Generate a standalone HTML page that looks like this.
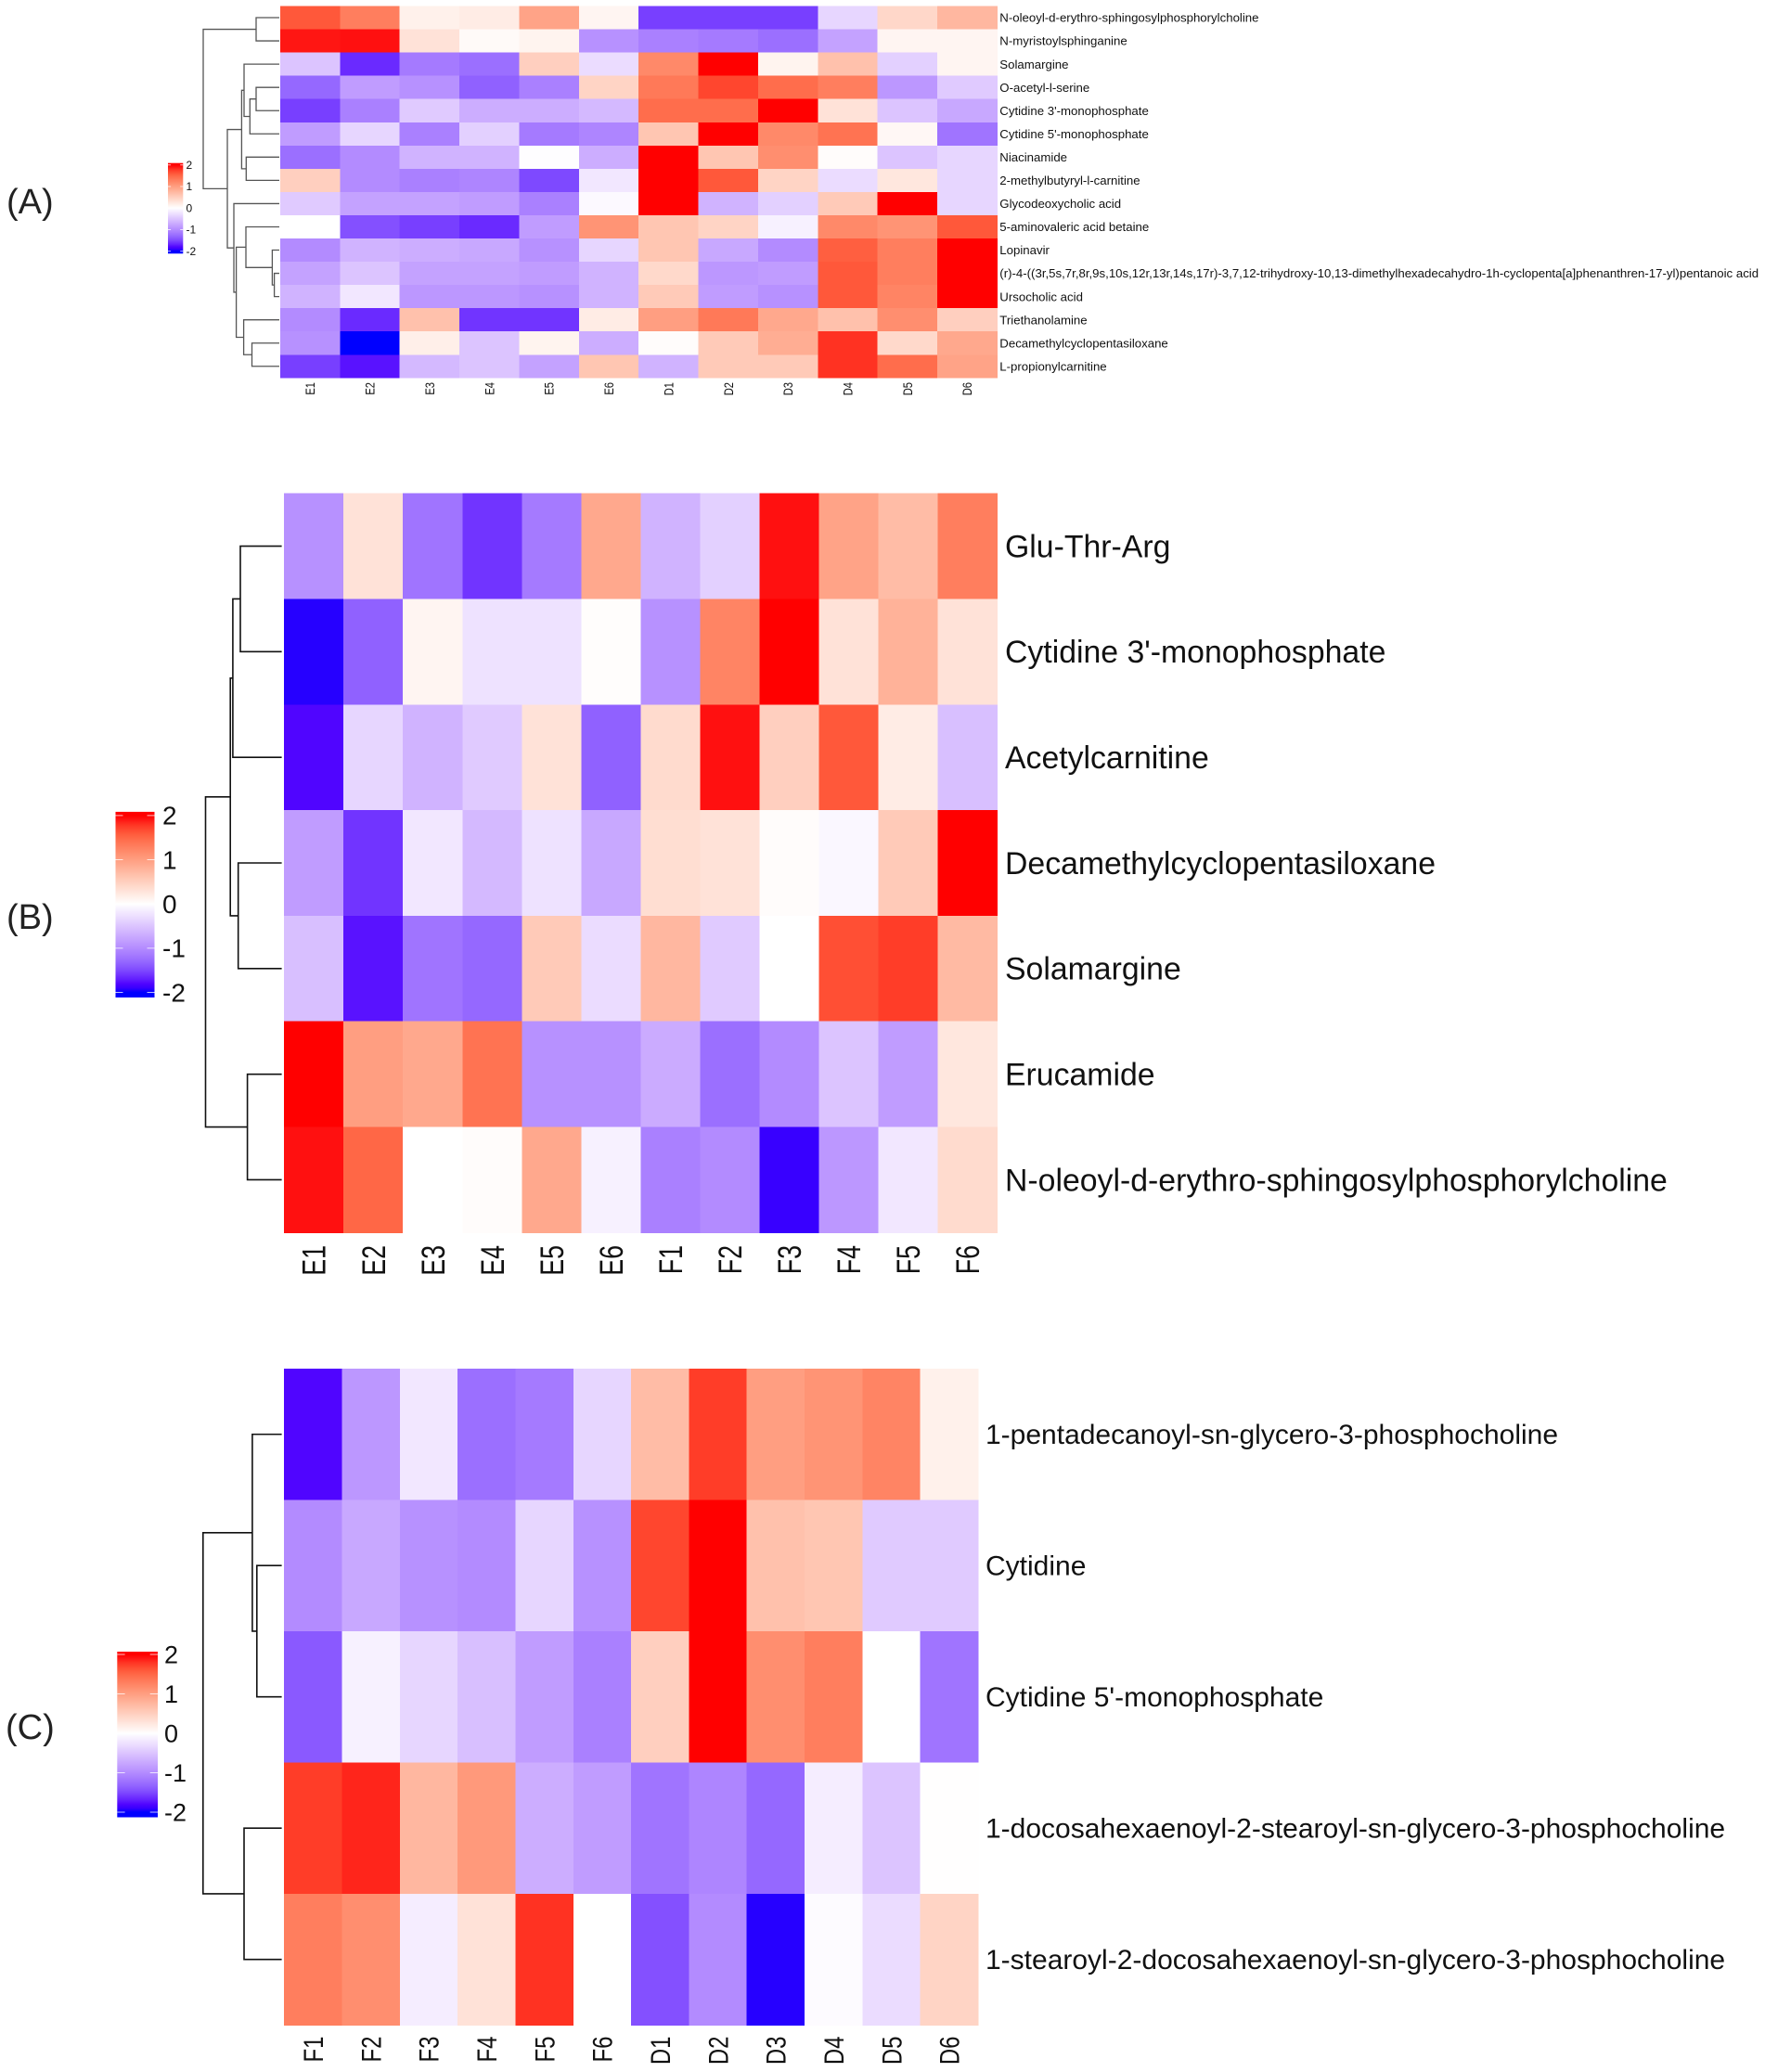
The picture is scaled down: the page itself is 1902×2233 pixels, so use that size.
<!DOCTYPE html>
<html lang="en">
<head>
<meta charset="utf-8">
<title>Metabolite clustered heatmaps</title>
<style>
  html, body { margin: 0; padding: 0; background: #ffffff; }
  svg { display: block; font-family: "Liberation Sans", Arial, sans-serif; }
</style>
</head>
<body>
<svg id="figure" xmlns="http://www.w3.org/2000/svg" width="1902" height="2233" viewBox="0 0 1902 2233">
  <rect x="0" y="0" width="1902" height="2233" fill="#ffffff"/>
  <defs id="gradients"></defs>
</svg>
<script>
// ---------- Panel A data ----------
const rowsA = ["N-oleoyl-d-erythro-sphingosylphosphorylcholine","N-myristoylsphinganine","Solamargine","O-acetyl-l-serine","Cytidine 3'-monophosphate","Cytidine 5'-monophosphate","Niacinamide","2-methylbutyryl-l-carnitine","Glycodeoxycholic acid","5-aminovaleric acid betaine","Lopinavir","(r)-4-((3r,5s,7r,8r,9s,10s,12r,13r,14s,17r)-3,7,12-trihydroxy-10,13-dimethylhexadecahydro-1h-cyclopenta[a]phenanthren-17-yl)pentanoic acid","Ursocholic acid","Triethanolamine","Decamethylcyclopentasiloxane","L-propionylcarnitine"];
const colsA = ["E1","E2","E3","E4","E5","E6","D1","D2","D3","D4","D5","D6"];
const valuesA = [
  [1.6,1.3,0.15,0.2,0.95,0.1,-1.55,-1.55,-1.55,-0.35,0.42,0.75],
  [1.9,1.92,0.3,0.05,0.12,-0.95,-1.1,-1.15,-1.25,-0.8,0.1,0.1],
  [-0.5,-1.65,-1.15,-1.25,0.5,-0.3,1.2,2,0.12,0.65,-0.4,0.1],
  [-1.3,-0.85,-0.95,-1.35,-1.1,0.45,1.35,1.7,1.45,1.3,-0.9,-0.45],
  [-1.55,-1.1,-0.45,-0.7,-0.7,-0.6,1.45,1.45,2,0.3,-0.5,-0.75],
  [-0.85,-0.35,-1.1,-0.4,-1.15,-1.05,0.6,2,1.2,1.4,0.08,-1.2],
  [-1.25,-1,-0.65,-0.65,-0.02,-0.7,2,0.6,1.15,0.03,-0.5,-0.35],
  [0.5,-1,-1.1,-1.05,-1.5,-0.2,2,1.6,0.45,-0.3,0.25,-0.35],
  [-0.45,-0.8,-0.8,-0.85,-1.1,-0.05,2,-0.65,-0.4,0.55,2,-0.35],
  [0,-1.45,-1.55,-1.65,-0.85,1.1,0.6,0.45,-0.12,1.2,1.1,1.6],
  [-1,-0.65,-0.7,-0.75,-0.95,-0.35,0.6,-0.75,-1,1.55,1.3,2],
  [-0.8,-0.5,-0.8,-0.8,-0.85,-0.65,0.4,-0.9,-0.85,1.6,1.3,2],
  [-0.65,-0.2,-0.9,-0.9,-0.95,-0.65,0.55,-0.85,-0.95,1.6,1.25,2],
  [-1,-1.65,0.65,-1.6,-1.6,0.2,1,1.35,0.9,0.65,1.15,0.5],
  [-0.95,-2,0.17,-0.5,0.12,-0.7,0.03,0.55,0.85,1.8,0.4,0.9],
  [-1.55,-1.75,-0.6,-0.5,-0.8,0.6,-0.65,0.55,0.55,1.8,1.45,0.95]
];
// merges: [childA, childB, height]; negative = leaf row (-1 is row 0), positive = earlier merge (1-based)
const mergesA = [
  [-1,-2,25],[-4,-5,25],[2,-6,31.7],[-3,3,38],[-7,-8,35.7],[4,5,40.6],[-12,-13,5.4],[-11,7,7.6],
  [-10,8,36],[-15,-16,29.5],[-14,10,38.4],[9,11,46.4],[-9,12,49],[6,13,56],[1,14,82]
];

// ---------- Panel B data ----------
const rowsB = ["Glu-Thr-Arg","Cytidine 3'-monophosphate","Acetylcarnitine","Decamethylcyclopentasiloxane","Solamargine","Erucamide","N-oleoyl-d-erythro-sphingosylphosphorylcholine"];
const colsB = ["E1","E2","E3","E4","E5","E6","F1","F2","F3","F4","F5","F6"];
const valuesB = [
  [-0.95,0.3,-1.2,-1.6,-1.15,0.9,-0.65,-0.4,1.92,0.95,0.7,1.3],
  [-1.95,-1.35,0.1,-0.25,-0.25,0.02,-0.95,1.25,2,0.3,0.8,0.3],
  [-1.8,-0.35,-0.65,-0.45,0.3,-1.35,0.38,1.92,0.5,1.6,0.2,-0.55],
  [-0.85,-1.6,-0.2,-0.6,-0.25,-0.75,0.35,0.3,0.03,-0.07,0.55,2],
  [-0.55,-1.75,-1.2,-1.3,0.55,-0.3,0.75,-0.45,0,1.65,1.75,0.72],
  [2,1,0.9,1.4,-0.95,-0.95,-0.72,-1.25,-1,-0.5,-0.85,0.25],
  [1.92,1.5,0,0.03,0.9,-0.12,-1.1,-1,-1.9,-0.9,-0.2,0.38]
];
const mergesB = [[-1,-2,44.6],[1,-3,52.7],[-4,-5,46.9],[2,3,55.4],[-6,-7,37],[4,5,82.1]];

// ---------- Panel C data ----------
const rowsC = ["1-pentadecanoyl-sn-glycero-3-phosphocholine","Cytidine","Cytidine 5'-monophosphate","1-docosahexaenoyl-2-stearoyl-sn-glycero-3-phosphocholine","1-stearoyl-2-docosahexaenoyl-sn-glycero-3-phosphocholine"];
const colsC = ["F1","F2","F3","F4","F5","F6","D1","D2","D3","D4","D5","D6"];
const valuesC = [
  [-1.8,-0.9,-0.2,-1.25,-1.15,-0.35,0.7,1.75,1,1.1,1.25,0.15],
  [-1,-0.75,-0.95,-1,-0.35,-0.95,1.7,2,0.65,0.6,-0.45,-0.45],
  [-1.4,-0.12,-0.35,-0.55,-0.85,-1.1,0.5,2,1.15,1.3,0,-1.2],
  [1.75,1.85,0.75,1.05,-0.7,-0.85,-1.2,-1.05,-1.3,-0.15,-0.5,0.01],
  [1.3,1.15,-0.15,0.3,1.8,0,-1.45,-1,-1.95,-0.03,-0.3,0.45]
];
const mergesC = [[-2,-3,26.8],[-1,1,31.7],[-4,-5,40.6],[2,3,84.8]];

const legendTicks = [2,1,0,-1,-2];

// ---------- Colour scale: blue-white-red interpolated in LAB ----------
function srgbToLab(r,g,b){
  const f=c=>{c/=255;return c<=0.04045?c/12.92:Math.pow((c+0.055)/1.055,2.4);};
  const R=f(r),G=f(g),B=f(b);
  const X=(0.4124*R+0.3576*G+0.1805*B)/0.95047,Y=0.2126*R+0.7152*G+0.0722*B,Z=(0.0193*R+0.1192*G+0.9505*B)/1.08883;
  const h=t=>t>0.008856?Math.cbrt(t):7.787*t+16/116;
  return [116*h(Y)-16,500*(h(X)-h(Y)),200*(h(Y)-h(Z))];
}
function labToRgb(L,a,b){
  const fy=(L+16)/116,fx=fy+a/500,fz=fy-b/200;
  const g=t=>t*t*t>0.008856?t*t*t:(t-16/116)/7.787;
  const X=0.95047*g(fx),Y=g(fy),Z=1.08883*g(fz);
  const lin=[3.2406*X-1.5372*Y-0.4986*Z,-0.9689*X+1.8758*Y+0.0415*Z,0.0557*X-0.204*Y+1.057*Z];
  return lin.map(c=>{c=Math.min(1,Math.max(0,c));const s=c<=0.0031308?12.92*c:1.055*Math.pow(c,1/2.4)-0.055;return Math.round(s*255);});
}
const labBlue=srgbToLab(0,0,255),labWhite=srgbToLab(255,255,255),labRed=srgbToLab(255,0,0);
function colorFor(v){
  const t=Math.min(1,Math.abs(v)/2),end=v<0?labBlue:labRed;
  const rgb=labToRgb(labWhite[0]+(end[0]-labWhite[0])*t,labWhite[1]+(end[1]-labWhite[1])*t,labWhite[2]+(end[2]-labWhite[2])*t);
  // the saturated ends of the reference ramp carry less green than a pure LAB path
  if(v<0&&t>0.6){rgb[1]=Math.max(0,Math.round(rgb[1]-420*(t-0.6)*(t-0.6)));}
  if(v>0&&t>0.7){rgb[1]=Math.max(0,Math.round(rgb[1]-300*(t-0.7)*(t-0.7)));}
  return "rgb("+rgb.join(",")+")";
}

// ---------- Drawing ----------
const SVGNS="http://www.w3.org/2000/svg";
const root=document.getElementById("figure");
const gradients=document.getElementById("gradients");
function mk(tag,attrs,parent,text){
  const el=document.createElementNS(SVGNS,tag);
  for(const k in attrs){el.setAttribute(k,attrs[k]);}
  if(text!==undefined){el.textContent=text;}
  (parent||root).appendChild(el);
  return el;
}

function drawPanel(p){
  const group=mk("g",{});
  
  

  const nRows=p.rows.length,nCols=p.cols.length;
  const xScale=i=>p.left+(p.right-p.left)*i/nCols;
  const yScale=i=>p.top+(p.bottom-p.top)*i/nRows;

  // panel letter
  const letter=mk("text",{x:p.letterX,y:p.letterY,"font-size":38,fill:"#222222"},group,"("+p.id.toUpperCase()+")");
  
  

  // heatmap cells
  const cellGroup=mk("g",{"shape-rendering":"crispEdges"},group);
  
  
  p.values.forEach((row,r)=>{
    row.forEach((v,c)=>{
      const cell=mk("rect",{x:xScale(c),y:yScale(r),width:xScale(c+1)-xScale(c)+0.4,height:yScale(r+1)-yScale(r)+0.4,fill:colorFor(v)},cellGroup);
      
      
    });
  });

  // row labels
  p.rows.forEach((name,r)=>{
    const label=mk("text",{x:p.labelX,y:(yScale(r)+yScale(r+1))/2+p.rowFont*0.35,"font-size":p.rowFont,fill:"#111111"},group,name);
    
    
  });

  // column labels
  p.cols.forEach((name,c)=>{
    const cx=(xScale(c)+xScale(c+1))/2+p.colFont*0.358;
    const label=mk("text",{transform:"translate("+cx+","+p.colTop+") rotate(-90) scale("+p.colSquash+",1)","text-anchor":"end","font-size":p.colFont,fill:"#111111"},group,name);
    
    
  });

  // dendrogram
  const dendro=mk("g",{fill:"none",stroke:p.treeColor,"stroke-width":p.treeWidth},group);
  
  
  const hx=h=>p.treeLeaf-h;
  const nodes=[];
  const place=id=>id<0?{x:p.treeLeaf,y:(yScale(-id-1)+yScale(-id))/2}:nodes[id-1];
  p.merges.forEach(m=>{
    const a=place(m[0]),b=place(m[1]),x=hx(m[2]);
    const link=mk("path",{d:"M"+a.x+" "+a.y+"H"+x+"V"+b.y+"H"+b.x},dendro);
    
    
    nodes.push({x:x,y:(a.y+b.y)/2});
  });

  // legend
  const legend=mk("g",{},group);
  
  
  const legendY=v=>p.legTick2+(2-v)*(p.legTickN2-p.legTick2)/4;
  const grad=mk("linearGradient",{id:"grad-"+p.id,gradientUnits:"userSpaceOnUse",x1:0,x2:0,y1:legendY(2),y2:legendY(-2)},gradients);
  for(let i=0;i<=40;i++){
    mk("stop",{offset:i/40,"stop-color":colorFor(2-i/10)},grad);
  }
  const bar=mk("rect",{x:p.legX,y:p.legTop,width:p.legW,height:p.legBottom-p.legTop,fill:"url(#grad-"+p.id+")"},legend);
  
  
  legendTicks.forEach(t=>{
    const y=legendY(t);
    const mark=mk("path",{d:"M"+p.legX+" "+y+"h"+p.legW*0.19+"M"+(p.legX+p.legW*0.81)+" "+y+"h"+p.legW*0.19,stroke:"#ffffff","stroke-opacity":0.75,"stroke-width":1,fill:"none"},legend);
    
    
    const tl=mk("text",{x:p.legLabelX,y:y+p.legFont*0.35,"font-size":p.legFont,fill:"#111111"},legend,String(t));
    
    
  });
}

drawPanel({id:"a",rows:rowsA,cols:colsA,values:valuesA,merges:mergesA,left:302,right:1074.4,top:6.5,bottom:407.3,
  labelX:1077.3,rowFont:13.23,colFont:14,colSquash:0.8,colTop:412,treeLeaf:301,treeColor:"#555555",treeWidth:1.3,
  letterX:7,letterY:230,legX:181,legW:16.3,legTop:175.7,legBottom:273.3,legTick2:177.7,legTickN2:270.7,legLabelX:200.5,legFont:12});
drawPanel({id:"b",rows:rowsB,cols:colsB,values:valuesB,merges:mergesB,left:306.2,right:1074.4,top:531.6,bottom:1328.4,
  labelX:1083,rowFont:33.8,colFont:35,colSquash:0.765,colTop:1342,treeLeaf:303.6,treeColor:"#111111",treeWidth:1.6,
  letterX:7,letterY:1001,legX:124.5,legW:42,legTop:874.9,legBottom:1075,legTick2:878.9,legTickN2:1069.5,legLabelX:175,legFont:28});
drawPanel({id:"c",rows:rowsC,cols:colsC,values:valuesC,merges:mergesC,left:306.2,right:1054,top:1475,bottom:2182.4,
  labelX:1062,rowFont:30,colFont:30,colSquash:0.8,colTop:2194.5,treeLeaf:303.6,treeColor:"#111111",treeWidth:1.6,
  letterX:6,letterY:1874,legX:126.3,legW:43.7,legTop:1780,legBottom:1958.5,legTick2:1783,legTickN2:1953,legLabelX:177,legFont:27});
</script>
</body>
</html>
